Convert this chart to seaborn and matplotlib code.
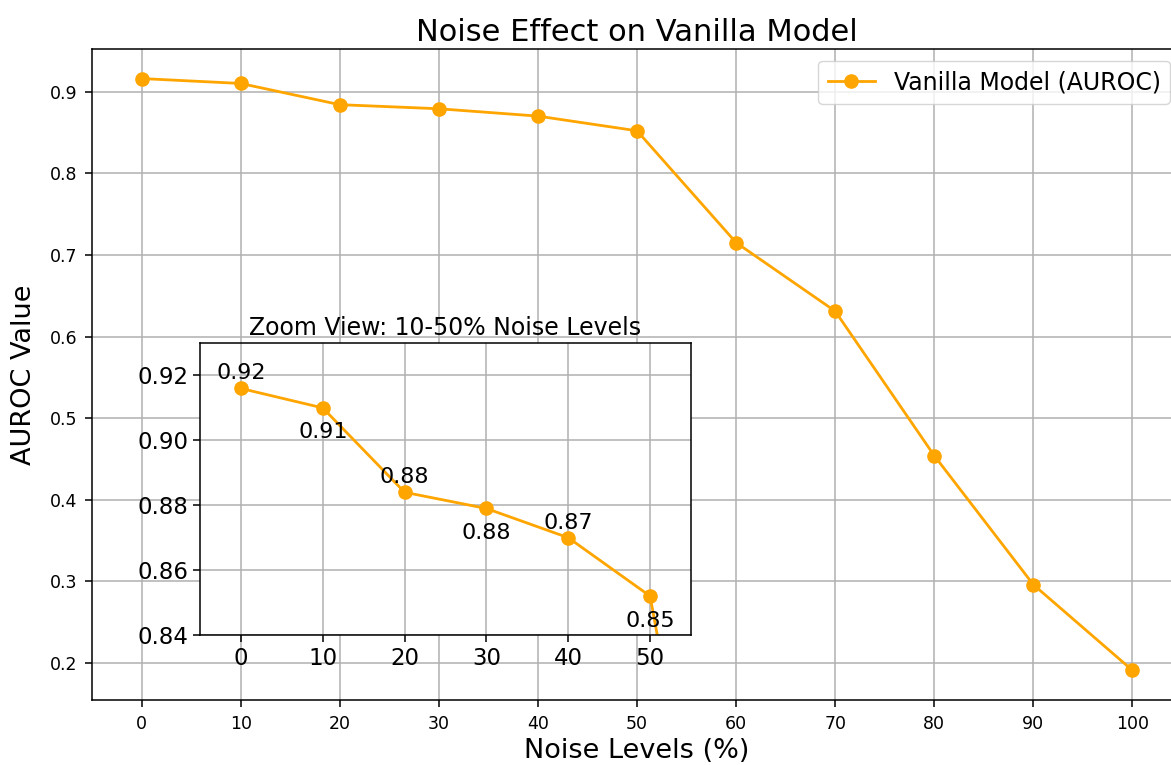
import matplotlib
matplotlib.use('Agg')
import matplotlib.pyplot as plt
import seaborn as sns
import pandas as pd

# noise level (%) and AUROC of the vanilla model
noise_levels = [0, 10, 20, 30, 40, 50, 60, 70, 80, 90, 100]
auroc_values = [0.916, 0.910, 0.884, 0.879, 0.870, 0.852, 0.715, 0.631, 0.454, 0.296, 0.191]

zoom_levels = [0, 10, 20, 30, 40, 50]
zoom_yticks = [0.84, 0.86, 0.88, 0.90, 0.92]
line_color = 'orange'

df = pd.DataFrame({'Noise': noise_levels, 'AUROC': auroc_values})

plt.rcParams['grid.linewidth'] = 1.1
plt.rcParams['axes.linewidth'] = 1.1

fig = plt.figure(figsize=(11.71, 7.65), dpi=100)
ax = fig.add_axes([0.0786, 0.085, 0.9308, 0.851])

sns.lineplot(data=df, x='Noise', y='AUROC', ax=ax, color=line_color, marker='o',
             markersize=9.5, markeredgecolor=line_color, markeredgewidth=1,
             linewidth=2, label='Vanilla Model (AUROC)')
ax.set_xticks(noise_levels)
ax.tick_params(labelsize=12.5, length=5, width=1.1, pad=5.5)
ax.set_title('Noise Effect on Vanilla Model', fontsize=22)
ax.set_xlabel('Noise Levels (%)', fontsize=19.5)
ax.set_ylabel('AUROC Value', fontsize=19.5, labelpad=9)
ax.grid(True)
ax.legend(loc='upper right', fontsize=17)

# inset: zoom on the low noise part
axins = fig.add_axes([0.1708, 0.1699, 0.4193, 0.3817])
sns.lineplot(data=df, x='Noise', y='AUROC', ax=axins, color=line_color, marker='o',
             markersize=9.5, markeredgecolor=line_color, markeredgewidth=1,
             linewidth=2, legend=False)
axins.set_xlim(-5, 55)
axins.set_ylim(0.84, 0.93)
axins.set_xticks(zoom_levels)
axins.set_yticks(zoom_yticks)
axins.tick_params(labelsize=16.5, length=5, width=1.1)
axins.set_xlabel('')
axins.set_ylabel('')
axins.grid(True)
axins.set_title('Zoom View: 10-50% Noise Levels', fontsize=17)

for i, (x, y) in enumerate(zip(noise_levels, auroc_values)):
    if x not in zoom_levels:
        continue
    offset = (0, 6.5) if i % 2 == 0 else (0, -22)
    axins.annotate(f'{y:.2f}', (x, y), textcoords='offset points', xytext=offset,
                   ha='center', fontsize=16)

fig.savefig('out.png', dpi=100)
